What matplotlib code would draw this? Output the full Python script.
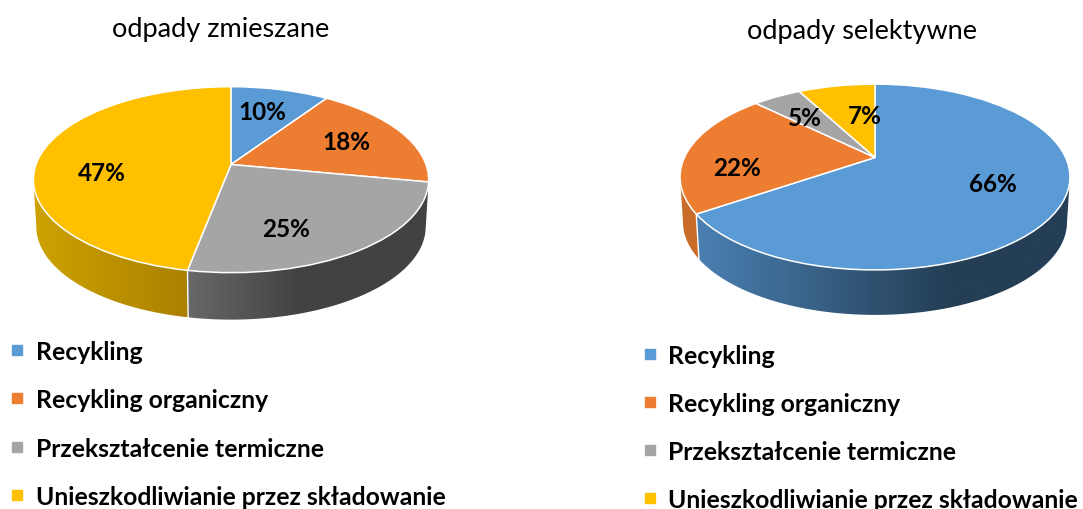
import numpy as np
import matplotlib
matplotlib.use("Agg")
import matplotlib.pyplot as plt
from matplotlib.colors import to_rgb
from matplotlib.patches import Polygon
from matplotlib.transforms import Transform

plt.rcParams['font.family'] = ['Lato', 'DejaVu Sans']

# data
categories = ["Recykling", "Recykling organiczny", "Przekształcenie termiczne",
              "Unieszkodliwianie przez składowanie"]
colors = ["#5B9BD5", "#ED7D31", "#A5A5A5", "#FFC000"]

title_left = "odpady zmieszane"
shares_left = [9.4, 18.6, 25, 47]
labels_left = [10, 18, 25, 47]

title_right = "odpady selektywne"
shares_right = [65.5, 21.8, 4.9, 7.8]
labels_right = [66, 22, 5, 7]


class Perspective(Transform):
    # tilts the flat unit pie into the picture plane, pixel coords
    input_dims = 2
    output_dims = 2
    is_separable = False
    has_inverse = False

    def __init__(self, cx, cy, b, a, p):
        super().__init__()
        self.cx, self.cy, self.b, self.a, self.p = cx, cy, b, a, p

    def transform_non_affine(self, values):
        values = np.asarray(values, dtype=float)
        d = 1 + self.p * values[:, 1]
        return np.column_stack([self.cx + self.b * values[:, 0] / d,
                                self.cy - self.a * values[:, 1] / d])


fig = plt.figure(figsize=(10.83, 5.10), dpi=100)
ax = fig.add_axes([0, 0, 1, 1])


def draw_pie(shares, texts, text_pos, persp, depth, shrink, walls):
    wedges, _ = ax.pie(shares, colors=colors, startangle=90, counterclock=False,
                       wedgeprops=dict(edgecolor="white", linewidth=1.1, zorder=3))
    for w in wedges:
        w.set_transform(persp + ax.transData)

    # side wall, only the part facing us
    front0 = np.arccos(-persp.p)
    front1 = 2 * np.pi - front0
    edges = np.cumsum([0] + list(shares)) / sum(shares) * 2 * np.pi
    for i, stops in walls.items():
        t0, t1 = max(edges[i], front0), min(edges[i + 1], front1)
        th = np.linspace(t0, t1, 120)
        top = persp.transform_non_affine(np.column_stack([np.sin(th), np.cos(th)]))
        low = top.copy()
        low[:, 0] = persp.cx + (low[:, 0] - persp.cx) * shrink
        low[:, 1] = low[:, 1] + depth
        outline = np.vstack([top, low[::-1]])
        poly = Polygon(outline, closed=True, fc="none", ec="none", transform=ax.transData)
        ax.add_patch(poly)
        x0, x1 = outline[:, 0].min(), outline[:, 0].max()
        xs = np.linspace(x0, x1, 256)
        grad = np.column_stack([np.interp(xs, [s[0] for s in stops],
                                          [to_rgb(s[1])[k] for s in stops]) for k in range(3)])
        im = ax.imshow(grad[np.newaxis, :, :], extent=(x0, x1, outline[:, 1].max(), outline[:, 1].min()),
                       aspect="auto", zorder=1, interpolation="bilinear")
        im.set_clip_path(poly)
        # thin white seam between wall pieces
        if edges[i + 1] < front1:
            ax.plot([top[-1, 0], low[-1, 0]], [top[-1, 1], low[-1, 1]],
                    color="white", lw=1.0, zorder=2)

    for txt, (x, y) in zip(texts, text_pos):
        ax.text(x, y, f"{txt}%", ha="center", va="center", fontsize=17.5,
                fontweight="bold", color="black", zorder=5)


draw_pie(shares_left, labels_left, [(262, 113), (346, 143), (286, 230), (102, 174)],
         Perspective(231, 165.5, 195, 90.5, 0.163), 47, 0.985,
         {2: [(188, "#686868"), (300, "#424242")],
          3: [(35, "#CDA200"), (188, "#AA8100")]})

draw_pie(shares_right, labels_right, [(993, 185), (737, 169), (805, 118), (865, 116)],
         Perspective(875, 158.5, 190.6, 88.8, 0.21), 45, 0.985,
         {0: [(697, "#4A80B2"), (950, "#243E55")],
          1: [(680, "#C96C28"), (700, "#C96C28")]})

ax.set_xlim(0, 1083)
ax.set_ylim(510, 0)
ax.set_aspect("auto")
ax.axis("off")

ax.text(221, 29, title_left, ha="center", va="center", fontsize=19.5, color="black")
ax.text(862, 31, title_right, ha="center", va="center", fontsize=19.5, color="black")

for mx, tx, rows in [(17, 36, [351, 399, 448, 496]), (650, 668, [355, 403, 451, 499])]:
    for name, col, y in zip(categories, colors, rows):
        ax.plot([mx], [y], marker="s", ms=7.2, color=col, ls="none", zorder=4)
        ax.text(tx, y + 1.5, name, ha="left", va="center", fontsize=17.8, fontweight="bold", color="black")

fig.savefig("out.png", dpi=100)
